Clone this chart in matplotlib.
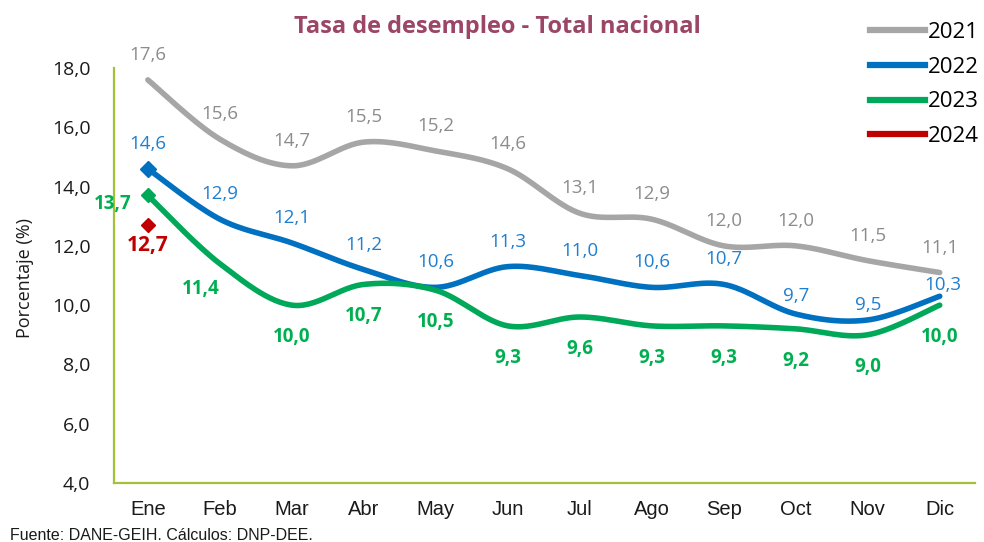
import numpy as np
import matplotlib
matplotlib.use("Agg")
import matplotlib.pyplot as plt
from matplotlib.lines import Line2D

months = ["Ene", "Feb", "Mar", "Abr", "May", "Jun", "Jul", "Ago", "Sep", "Oct", "Nov", "Dic"]
y2021 = [17.6, 15.6, 14.7, 15.5, 15.2, 14.6, 13.1, 12.9, 12.0, 12.0, 11.5, 11.1]
y2022 = [14.6, 12.9, 12.1, 11.2, 10.6, 11.3, 11.0, 10.6, 10.7, 9.7, 9.5, 10.3]
y2023 = [13.7, 11.4, 10.0, 10.7, 10.5, 9.3, 9.6, 9.3, 9.3, 9.2, 9.0, 10.0]
y2024 = [12.7]
yticks = [4.0, 6.0, 8.0, 10.0, 12.0, 14.0, 16.0, 18.0]

C21, C22, C23, C24 = "#A6A6A6", "#0070C0", "#00A85A", "#C00000"
T21, T22, T23 = "#8C8C8C", "#1F7FD0", "#00B050"
SPINE = "#A3C03A"

NUM_FONT = ["Open Sans", "DejaVu Sans"]
NARROW = ["Liberation Sans Narrow", "Liberation Sans", "DejaVu Sans"]


def smooth(xs, ys, n=30):
    xs = np.asarray(xs, float)
    ys = np.asarray(ys, float)
    P = np.column_stack([xs, ys])
    out = []
    for i in range(len(P) - 1):
        p0 = P[i - 1] if i > 0 else P[i]
        p1 = P[i]
        p2 = P[i + 1]
        p3 = P[i + 2] if i + 2 < len(P) else P[i + 1]
        c1 = p1 + (p2 - p0) / 6.0
        c2 = p2 - (p3 - p1) / 6.0
        t = np.linspace(0, 1, n, endpoint=(i == len(P) - 2))[:, None]
        b = ((1 - t) ** 3) * p1 + 3 * ((1 - t) ** 2) * t * c1 + 3 * (1 - t) * t ** 2 * c2 + t ** 3 * p2
        out.append(b)
    B = np.vstack(out)
    return B[:, 0], B[:, 1]


fig = plt.figure(figsize=(9.84, 5.42), dpi=100)
ax = fig.add_axes([114 / 984, 1 - 483 / 542, (975 - 114) / 984, (483 - 68) / 542])

x = np.arange(len(months))
for ys, c in [(y2021, C21), (y2022, C22), (y2023, C23)]:
    sx, sy = smooth(x, ys)
    ax.plot(sx, sy, color=c, lw=4.0, solid_capstyle="round", zorder=3)

ax.plot([0], [y2022[0]], marker="D", color=C22, ms=8, zorder=4, ls="none")
ax.plot([0], [y2023[0]], marker="D", color=C23, ms=7, zorder=4, ls="none")
ax.plot([0], [y2024[0]], marker="D", color=C24, ms=7, zorder=4, ls="none")


def fmt(v):
    return f"{v:.1f}".replace(".", ",")


LBL = 13.5
for i, v in enumerate(y2021):
    ax.annotate(fmt(v), (i, v), xytext=(0, 18), textcoords="offset points",
                ha="center", va="center", color=T21, fontsize=LBL, family=NUM_FONT)

off22 = {9: (0, 13), 10: (0, 11), 11: (2, 8)}
for i, v in enumerate(y2022):
    dx, dy = off22.get(i, (0, 18))
    ax.annotate(fmt(v), (i, v), xytext=(dx, dy), textcoords="offset points",
                ha="center", va="center", color=T22, fontsize=LBL, family=NUM_FONT)

off23 = {0: (-25, -6), 1: (-14, -18), 11: (0, -23)}
for i, v in enumerate(y2023):
    dx, dy = off23.get(i, (0, -23))
    ax.annotate(fmt(v), (i, v), xytext=(dx, dy), textcoords="offset points",
                ha="center", va="center", color=T23, fontsize=LBL, fontweight="bold",
                family=NUM_FONT)

ax.annotate(fmt(y2024[0]), (0, y2024[0]), xytext=(0, -15), textcoords="offset points",
            ha="center", va="center", color=C24, fontsize=15, fontweight="bold",
            family=NUM_FONT)

ax.set_xlim(-0.47, 11.49)
ax.set_ylim(4, 18)
ax.set_yticks(yticks)
ax.set_yticklabels([fmt(t) for t in yticks], family=NUM_FONT, fontsize=14, color="#1a1a1a")
ax.set_xticks(x)
ax.set_xticklabels(months, family=NARROW, fontsize=14.5, color="#1a1a1a")
ax.tick_params(axis="y", length=0, pad=17)
ax.tick_params(axis="x", length=0, pad=12)
for s in ["top", "right"]:
    ax.spines[s].set_visible(False)
for s in ["left", "bottom"]:
    ax.spines[s].set_color(SPINE)
    ax.spines[s].set_linewidth(1.6)

fig.text(25 / 984, 1 - 278 / 542, "Porcentaje (%)", rotation=90, ha="center", va="center",
         fontsize=13, family=NUM_FONT, color="#1a1a1a")

fig.text(497 / 984, 1 - 27 / 542, "Tasa de desempleo - Total nacional", ha="center",
         va="center", fontsize=17, fontweight="bold", color="#9C4666", family=NUM_FONT)

fig.text(10 / 984, 1 - 535 / 542, "Fuente: DANE-GEIH. Cálculos: DNP-DEE.", ha="left",
         va="center", fontsize=11.5, family=NARROW, color="#1a1a1a")

handles = [Line2D([], [], color=c, lw=4.5) for c in (C21, C22, C23, C24)]
fig.legend(handles, ["2021", "2022", "2023", "2024"], loc="upper right",
           bbox_to_anchor=(988 / 984, 1 - 13 / 542), frameon=False,
           prop={"family": NUM_FONT, "size": 16}, handlelength=2.5,
           handletextpad=0.12, labelspacing=0.62, borderaxespad=0)

fig.savefig("out.png", dpi=100)
